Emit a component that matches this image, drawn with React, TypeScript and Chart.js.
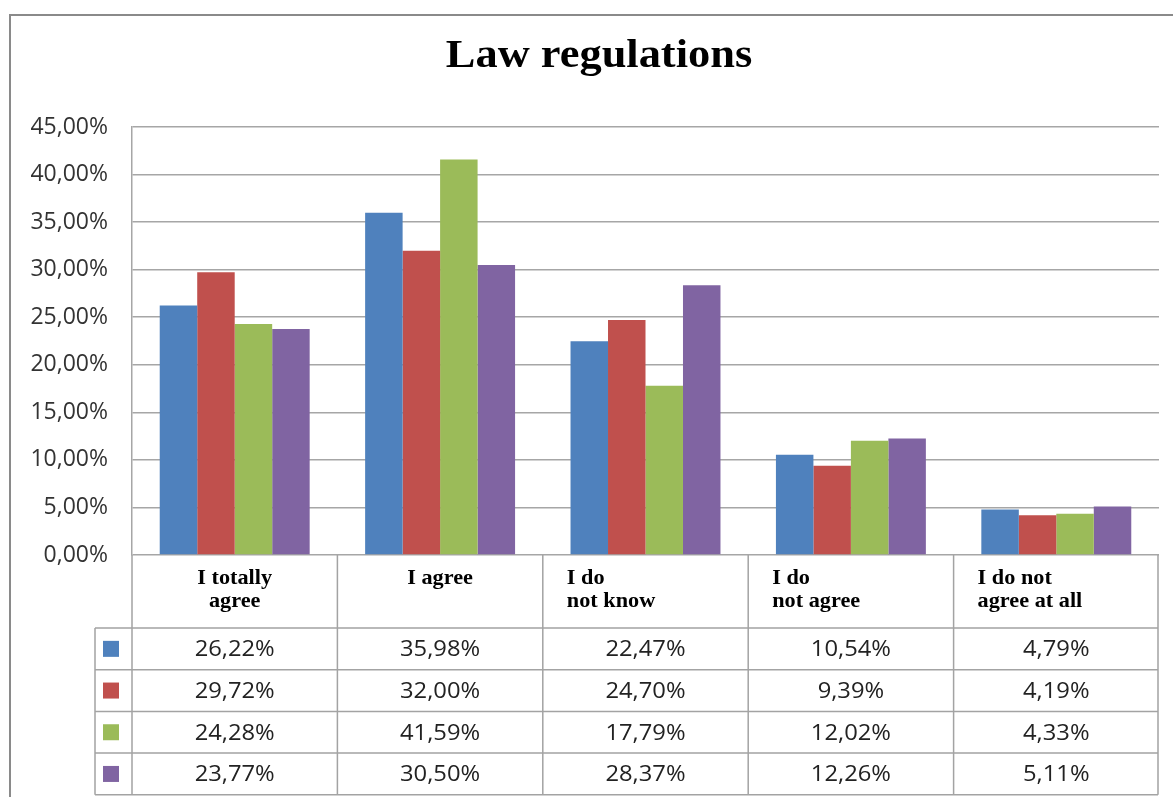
import React, { useEffect, useRef } from "react";
import { Chart, registerables } from "chart.js";

Chart.register(...registerables);

// ---- data ----
const title = "Law regulations";
const categories = [
  "I totally agree",
  "I agree",
  "I do not know",
  "I do not agree",
  "I do not agree at all",
];
const headerLines = [
  ["I totally", "agree"],
  ["I agree"],
  ["I do", "not know"],
  ["I do", "not agree"],
  ["I do not", "agree at all"],
];
const headerAlign = ["center", "center", "left", "left", "left"];
const seriesNames = ["Series 1", "Series 2", "Series 3", "Series 4"];
const series1 = [26.22, 35.98, 22.47, 10.54, 4.79];
const series2 = [29.72, 32.0, 24.7, 9.39, 4.19];
const series3 = [24.28, 41.59, 17.79, 12.02, 4.33];
const series4 = [23.77, 30.5, 28.37, 12.26, 5.11];
const seriesColors = ["#4F81BD", "#C0504D", "#9BBB59", "#8064A2"];
const yMin = 0;
const yMax = 45;
const yStep = 5;

const allSeries = [series1, series2, series3, series4];
const fmt = (v: number) => v.toFixed(2).replace(".", ",") + "%";

const W = 1173;
const H = 797;

function stretchText(
  ctx: CanvasRenderingContext2D,
  text: string,
  x: number,
  y: number,
  sx: number,
  align: CanvasTextAlign
) {
  ctx.save();
  ctx.translate(x, y);
  ctx.scale(sx, 1);
  ctx.textAlign = align;
  ctx.fillText(text, 0, 0);
  ctx.restore();
}

const framePlugin = {
  id: "frameTitleTable",
  afterDraw(chart: any) {
    const { ctx, chartArea, scales } = chart;
    const xs = scales.x;
    const n = categories.length;
    const catW = (chartArea.right - chartArea.left) / n;
    const tableTop = chartArea.bottom;
    const tableRight = chartArea.right - 1;
    const headerH = 73;
    const rowH = 41.7;
    const keyLeft = 95;
    const tableBottom = tableTop + headerH + rowH * allSeries.length;

    ctx.save();
    // outer frame
    ctx.strokeStyle = "#8a8a8a";
    ctx.lineWidth = 2;
    ctx.strokeRect(10, 15, W + 100, H + 100);

    // title
    ctx.fillStyle = "#000";
    ctx.font = 'bold 40px "Liberation Serif"';
    ctx.textBaseline = "alphabetic";
    stretchText(ctx, title, 599, 67, 1.11, "center");

    // table lines
    ctx.strokeStyle = "#a3a3a3";
    ctx.lineWidth = 1.5;
    ctx.beginPath();
    for (let i = 0; i <= n; i++) {
      const bx = i < n ? xs.getPixelForValue(i) - catW / 2 : tableRight;
      ctx.moveTo(bx, tableTop);
      ctx.lineTo(bx, tableBottom);
    }
    ctx.moveTo(keyLeft, tableTop + headerH);
    ctx.lineTo(keyLeft, tableBottom);
    for (let r = 0; r <= allSeries.length; r++) {
      const ry = tableTop + headerH + r * rowH;
      ctx.moveTo(keyLeft, ry);
      ctx.lineTo(tableRight, ry);
    }
    ctx.stroke();

    // headers
    ctx.fillStyle = "#000";
    ctx.font = 'bold 21px "Liberation Serif"';
    ctx.textBaseline = "alphabetic";
    for (let i = 0; i < n; i++) {
      const cx = xs.getPixelForValue(i);
      const colLeft = cx - catW / 2;
      headerLines[i].forEach((line, li) => {
        const y = tableTop + 29 + li * 23;
        if (headerAlign[i] === "center") {
          stretchText(ctx, line, cx, y, 1.06, "center");
        } else {
          stretchText(ctx, line, colLeft + 24, y, 1.06, "left");
        }
      });
    }

    // rows
    ctx.font = '22px "Open Sans"';
    ctx.textBaseline = "middle";
    allSeries.forEach((s, r) => {
      const cy = tableTop + headerH + r * rowH + rowH / 2;
      ctx.fillStyle = seriesColors[r];
      ctx.fillRect(103, cy - 8, 16, 16);
      ctx.fillStyle = "#222";
      s.forEach((v, i) => {
        const cx = xs.getPixelForValue(i);
        stretchText(ctx, fmt(v), cx, cy + 1, 1.08, "center");
      });
    });
    ctx.restore();
  },
};

export default function App() {
  const ref = useRef<HTMLCanvasElement | null>(null);

  useEffect(() => {
    if (!ref.current) return;
    const chart = new Chart(ref.current, {
      type: "bar",
      data: {
        labels: categories,
        datasets: allSeries.map((s, i) => ({
          label: seriesNames[i],
          data: s,
          backgroundColor: seriesColors[i],
          borderWidth: 0,
          categoryPercentage: 0.73,
          barPercentage: 1.0,
        })),
      },
      options: {
        animation: false,
        responsive: false,
        devicePixelRatio: 1,
        layout: { padding: { top: 127, bottom: H - 555, left: 0, right: W - 1159 } },
        plugins: {
          legend: { display: false },
          title: { display: false },
          tooltip: { enabled: false },
        },
        scales: {
          x: { display: false },
          y: {
            min: yMin,
            max: yMax,
            afterFit: (scale: any) => {
              scale.width = 132;
            },
            ticks: {
              stepSize: yStep,
              padding: 24,
              color: "#333",
              font: { family: "Open Sans", size: 23 },
              callback: (v: any) => fmt(Number(v)),
            },
            grid: { color: "#a6a6a6", lineWidth: 1.5, drawTicks: false },
            border: { color: "#a6a6a6", width: 1.5 },
          },
        },
      },
      plugins: [framePlugin],
    });
    return () => chart.destroy();
  }, []);

  return (
    <div style={{ position: "fixed", left: 0, top: 0, width: W, height: H, background: "#fff" }}>
      <canvas ref={ref} width={W} height={H} style={{ display: "block" }} />
    </div>
  );
}
